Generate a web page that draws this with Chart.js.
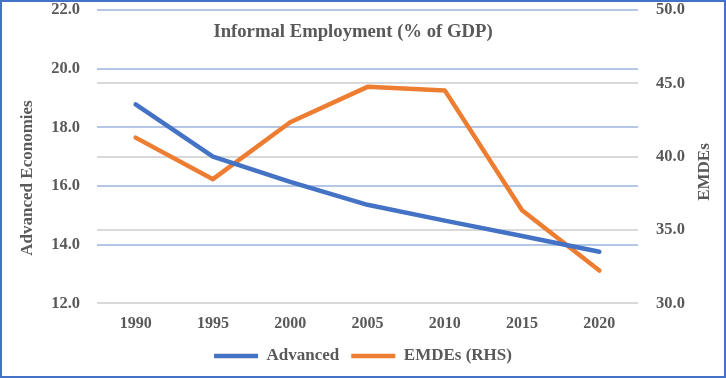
<!DOCTYPE html>
<html lang="en">
<head>
    <meta charset="UTF-8">
    <title>Informal Employment (% of GDP)</title>
    <script src="https://cdn.jsdelivr.net/npm/chart.js"></script>
    <style>
        body { margin: 0; background: #fff; }
        .chart-box {
            width: 726px;
            height: 378px;
            box-sizing: border-box;
            border: 2px solid #4472C4;
        }
    </style>
</head>
<body>
    <div class="chart-box">
        <canvas id="informalChart" width="722" height="374"></canvas>
    </div>
    <script>
        // data
        const years = ['1990', '1995', '2000', '2005', '2010', '2015', '2020'];
        const advanced = [18.78, 17.0, 16.14, 15.36, 14.82, 14.3, 13.76];
        const emdes = [41.3, 38.47, 42.35, 44.76, 44.52, 36.35, 32.24];

        const gray = '#595959';
        const serif = "'Liberation Serif', 'Times New Roman', serif";

        // title and axis titles sit inside the plot like in the Excel original
        const textPlugin = {
            id: 'textPlugin',
            afterDraw(chart) {
                const ctx = chart.ctx;
                ctx.save();
                ctx.fillStyle = gray;
                ctx.font = 'bold 18.7px ' + serif;
                ctx.textAlign = 'center';
                ctx.textBaseline = 'middle';
                ctx.fillText('Informal Employment (% of GDP)', 351, 30);

                ctx.font = 'bold 17px ' + serif;
                ctx.translate(26, 176);
                ctx.rotate(-Math.PI / 2);
                ctx.fillText('Advanced Economies', 0, 0);
                ctx.restore();

                ctx.save();
                ctx.fillStyle = gray;
                ctx.font = 'bold 17px ' + serif;
                ctx.textAlign = 'center';
                ctx.textBaseline = 'middle';
                ctx.translate(703, 170);
                ctx.rotate(-Math.PI / 2);
                ctx.fillText('EMDEs', 0, 0);
                ctx.restore();
            }
        };

        // drop the extra room chart.js keeps above/below the y axes
        const noPad = s => { s.paddingTop = 0; s.paddingBottom = 0; };

        const ctx = document.getElementById('informalChart').getContext('2d');
        new Chart(ctx, {
            type: 'line',
            data: {
                labels: years,
                datasets: [
                    {
                        label: 'Advanced',
                        data: advanced,
                        yAxisID: 'y',
                        borderColor: '#4472C4',
                        backgroundColor: '#4472C4',
                        borderWidth: 4.5,
                        borderCapStyle: 'round',
                        borderJoinStyle: 'round',
                        pointRadius: 0,
                        fill: false
                    },
                    {
                        label: 'EMDEs (RHS)',
                        data: emdes,
                        yAxisID: 'y1',
                        borderColor: '#ED7D31',
                        backgroundColor: '#ED7D31',
                        borderWidth: 4.5,
                        borderCapStyle: 'round',
                        borderJoinStyle: 'round',
                        pointRadius: 0,
                        fill: false
                    }
                ]
            },
            options: {
                responsive: false,
                animation: false,
                layout: { padding: { top: 8, left: 0, right: 0, bottom: 1.6 } },
                plugins: {
                    title: { display: false },
                    tooltip: { enabled: false },
                    legend: {
                        position: 'bottom',
                        labels: {
                            usePointStyle: true,
                            pointStyle: 'line',
                            pointStyleWidth: 44,
                            boxHeight: 4,
                            padding: 12,
                            color: gray,
                            font: { family: serif, size: 17, weight: 'bold' }
                        }
                    }
                },
                scales: {
                    x: {
                        offset: true,
                        grid: { display: false, drawTicks: false },
                        border: { display: false },
                        ticks: {
                            color: gray,
                            padding: 11,
                            maxRotation: 0,
                            font: { family: serif, size: 16, weight: 'bold' }
                        },
                        afterFit: s => { s.height = 32; }
                    },
                    y: {
                        position: 'left',
                        min: 12,
                        max: 22,
                        ticks: {
                            stepSize: 2,
                            padding: 17,
                            color: gray,
                            callback: v => v.toFixed(1),
                            font: { family: serif, size: 16.5, weight: 'bold' }
                        },
                        grid: {
                            drawTicks: false,
                            lineWidth: 2,
                            color: c => (c.tick && c.tick.value === 12) ? 'rgba(0,0,0,0)' : '#B4C7E7'
                        },
                        border: { display: false },
                        afterFit: s => { s.width = 95; noPad(s); }
                    },
                    y1: {
                        position: 'right',
                        min: 30,
                        max: 50,
                        ticks: {
                            stepSize: 5,
                            padding: 18,
                            color: gray,
                            callback: v => v.toFixed(1),
                            font: { family: serif, size: 16.5, weight: 'bold' }
                        },
                        grid: {
                            drawTicks: false,
                            lineWidth: 2,
                            color: c => (c.tick && c.tick.value === 50) ? 'rgba(0,0,0,0)' : '#D9D9D9'
                        },
                        border: { display: false },
                        afterFit: s => { s.width = 86; noPad(s); }
                    }
                }
            },
            plugins: [textPlugin]
        });
    </script>
</body>
</html>
